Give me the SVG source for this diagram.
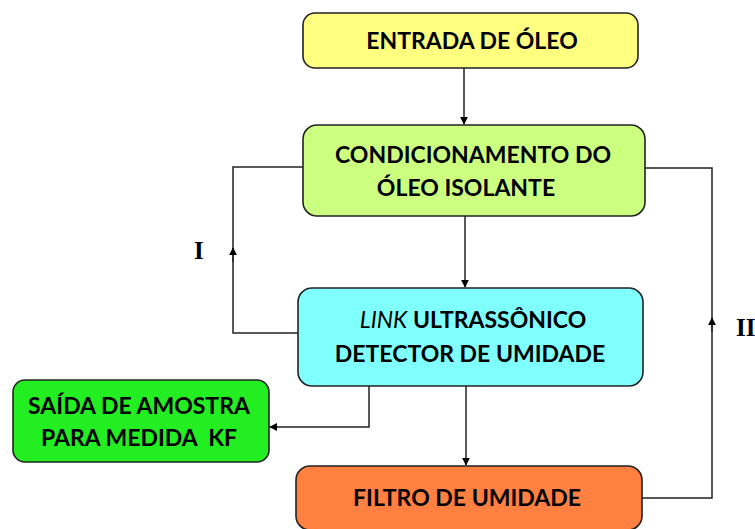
<svg xmlns="http://www.w3.org/2000/svg" width="755" height="529" viewBox="0 0 755 529">
<defs>
<style>
.box{stroke:#222;stroke-width:1.6}
.t{font-family:Lato,"Liberation Sans",sans-serif;font-weight:bold;font-size:23px;fill:#000;text-anchor:middle;white-space:pre}
.c{fill:none;stroke:#222;stroke-width:1.5}
.lab{font-family:"Liberation Serif",serif;font-weight:bold;font-size:25px;fill:#000}
</style>
<marker id="ah" viewBox="0 0 10 10" refX="9" refY="5" markerWidth="8" markerHeight="8" markerUnits="userSpaceOnUse" orient="auto">
<path d="M0,0 L10,5 L0,10 z" fill="#000"/>
</marker>
</defs>
<rect width="755" height="529" fill="#fff"/>
<g id="connectors">
<line class="c" x1="464" y1="68" x2="464" y2="124" marker-end="url(#ah)"/>
<line class="c" x1="465" y1="216" x2="465" y2="287" marker-end="url(#ah)"/>
<line class="c" x1="466" y1="386" x2="466" y2="465" marker-end="url(#ah)"/>
<polyline class="c" points="298,333 233,333 233,167 303,167"/>
<line class="c" x1="233" y1="262" x2="233" y2="248" marker-end="url(#ah)"/>
<polyline class="c" points="369,386 369,427 270,427" marker-end="url(#ah)"/>
<polyline class="c" points="642,498 712,498 712,168 645,168"/>
<line class="c" x1="712" y1="332" x2="712" y2="318" marker-end="url(#ah)"/>
<text class="lab" x="194" y="259">I</text>
<text class="lab" x="736" y="336">II</text>
</g>
<g id="entrada">
<rect class="box" x="303" y="13" width="335" height="55" rx="12" fill="#FFFF80"/>
<text class="t" x="472" y="49">ENTRADA DE ÓLEO</text>
</g>
<g id="condicionamento">
<rect class="box" x="303" y="125" width="342" height="91" rx="14" fill="#CCFF80"/>
<text class="t" x="473" y="163">CONDICIONAMENTO DO</text>
<text class="t" x="466" y="196">ÓLEO ISOLANTE</text>
</g>
<g id="link">
<rect class="box" x="298" y="288" width="345" height="98" rx="14" fill="#80FFFF"/>
<text class="t" x="473" y="328"><tspan font-style="italic" font-weight="normal">LINK</tspan> ULTRASSÔNICO</text>
<text class="t" x="470" y="362">DETECTOR DE UMIDADE</text>
</g>
<g id="saida">
<rect class="box" x="13" y="380" width="256" height="82" rx="12" fill="#22EE22"/>
<text class="t" x="139" y="414">SAÍDA DE AMOSTRA</text>
<text class="t" x="139" y="446">PARA MEDIDA  KF</text>
</g>
<g id="filtro">
<rect class="box" x="296" y="466" width="346" height="64" rx="14" fill="#FF8040"/>
<text class="t" x="467" y="506">FILTRO DE UMIDADE</text>
</g>
</svg>
